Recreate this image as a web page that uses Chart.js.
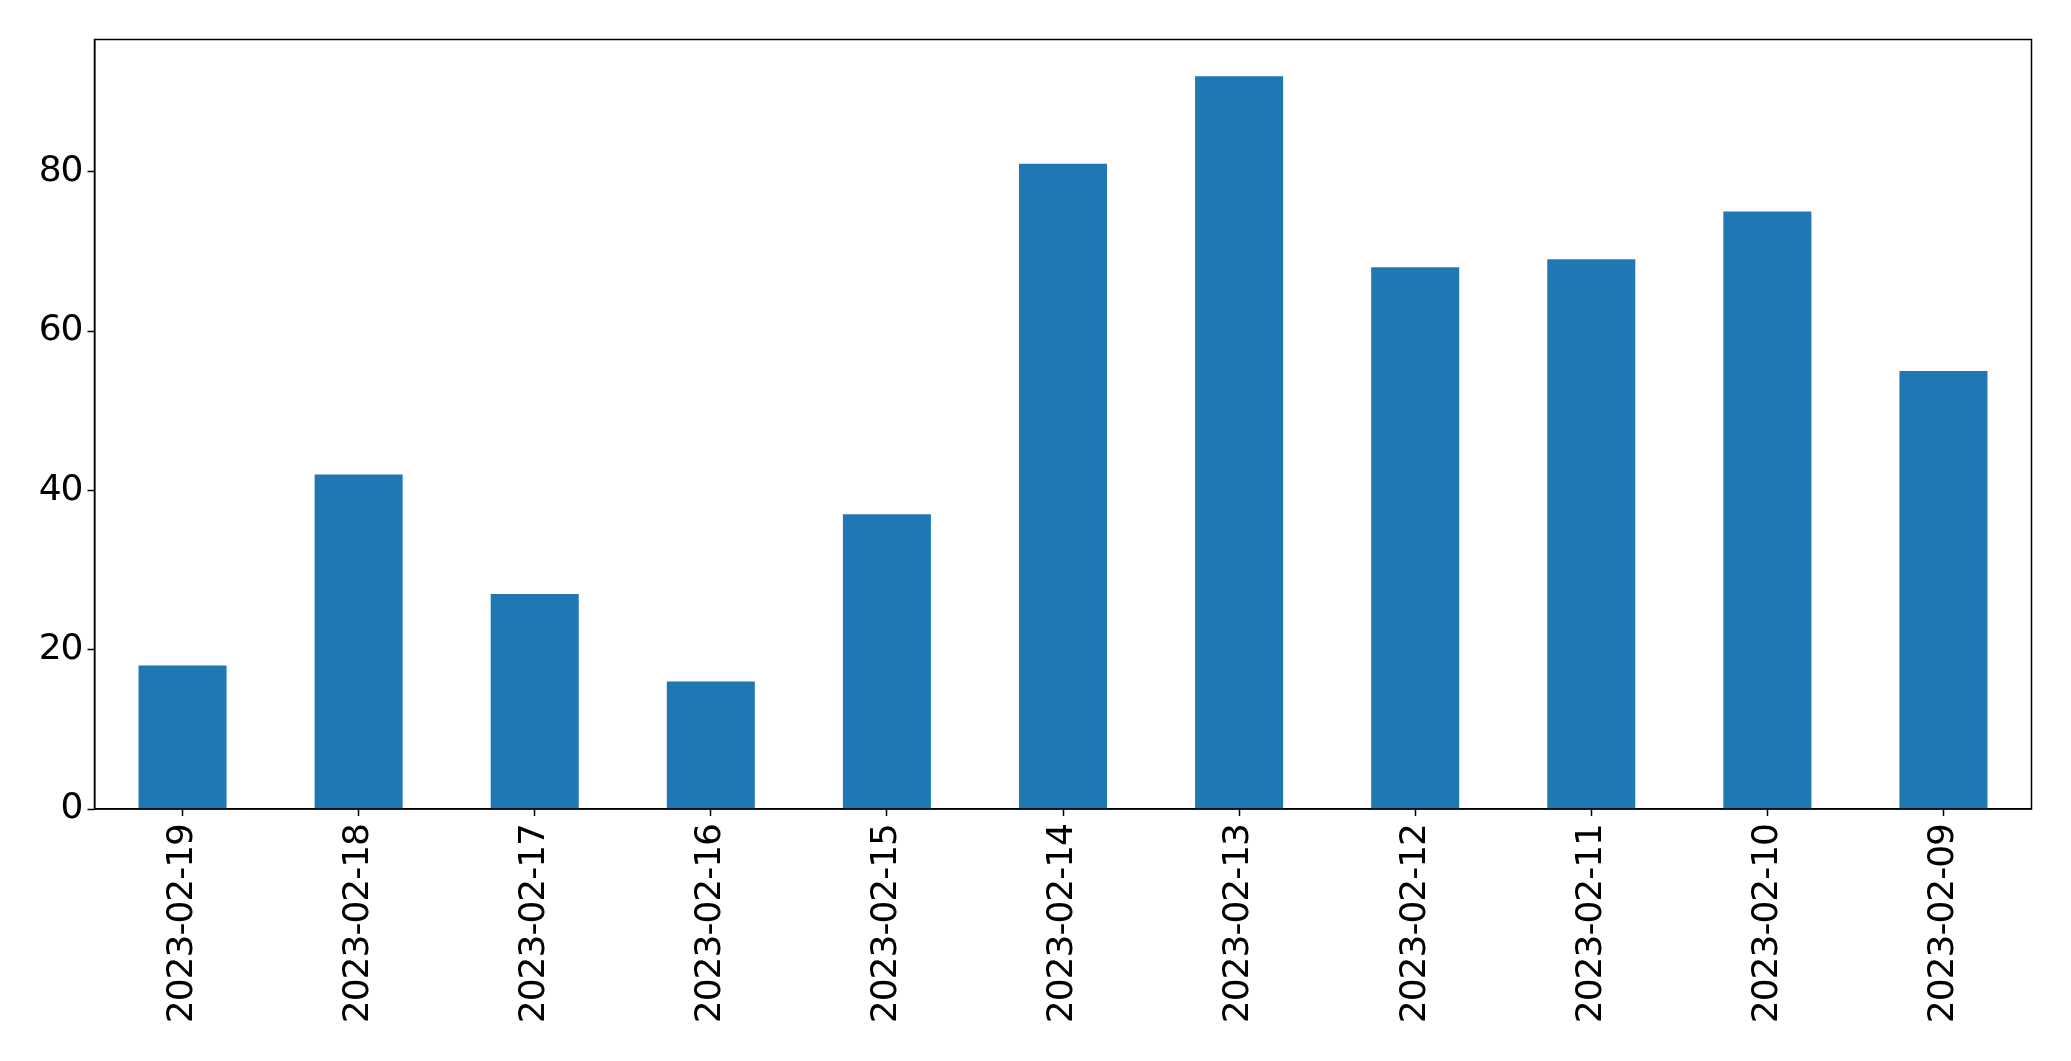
<!DOCTYPE html>
<html>
<head>
<meta charset="utf-8">
<script src="https://cdn.jsdelivr.net/npm/chart.js@4/dist/chart.umd.min.js"></script>
<style>
  html, body { margin: 0; padding: 0; background: #fff; }
  #wrap { width: 2071px; height: 1061px; }
</style>
</head>
<body>
<div id="wrap"><canvas id="chart" width="2071" height="1061"></canvas></div>
<script>
const dates = ["2023-02-19", "2023-02-18", "2023-02-17", "2023-02-16", "2023-02-15", "2023-02-14",
  "2023-02-13", "2023-02-12", "2023-02-11", "2023-02-10", "2023-02-09"];
const counts = [18, 42, 27, 16, 37, 81, 92, 68, 69, 75, 55];
const yTicks = [0, 20, 40, 60, 80];

const frame = {
  id: "frame",
  beforeDraw(chart) {
    // matplotlib's hinted glyphs sit a bit tighter than the browser's
    chart.ctx.letterSpacing = "-1px";
  },
  afterDraw(chart) {
    const a = chart.chartArea;
    const ctx = chart.ctx;
    ctx.save();
    ctx.strokeStyle = "#000";
    ctx.lineWidth = 1.5;
    ctx.strokeRect(a.left, a.top, a.right - a.left, a.bottom - a.top);
    ctx.restore();
  }
};

const font = { family: "DejaVu Sans", size: 36 };

new Chart(document.getElementById("chart"), {
  type: "bar",
  data: {
    labels: dates,
    datasets: [{
      data: counts,
      backgroundColor: "#1f77b4",
      barPercentage: 0.5,
      categoryPercentage: 1.0
    }]
  },
  options: {
    responsive: false,
    animation: false,
    layout: { padding: { top: 39.5, right: 39.5, left: 0, bottom: 0 } },
    plugins: { legend: { display: false }, tooltip: { enabled: false } },
    scales: {
      x: {
        offset: true,
        grid: { offset: false, drawOnChartArea: false, tickLength: 7, tickColor: "#000", tickWidth: 1.5 },
        border: { display: true, color: "#000", width: 1.5 },
        ticks: { color: "#000", font: font, minRotation: 90, maxRotation: 90, padding: 8, autoSkip: false },
        afterFit(scale) { scale.height = 1061 - 809; }
      },
      y: {
        min: 0,
        max: 96.6,
        grid: { drawOnChartArea: false, tickLength: 7, tickColor: "#000", tickWidth: 1.5 },
        border: { display: true, color: "#000", width: 1.5 },
        ticks: { color: "#000", font: font, padding: 5 },
        afterBuildTicks(scale) { scale.ticks = yTicks.map(v => ({ value: v })); },
        afterFit(scale) { scale.width = 94.5; }
      }
    }
  },
  plugins: [frame]
});
</script>
</body>
</html>
